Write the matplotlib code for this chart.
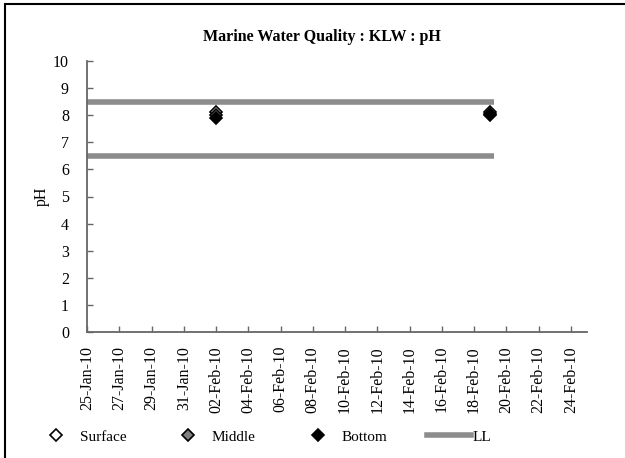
import matplotlib
matplotlib.use("Agg")
import matplotlib.pyplot as plt
import matplotlib.dates as mdates
from matplotlib.lines import Line2D
from matplotlib.patches import Rectangle
import datetime as dt

plt.rcParams['font.family'] = ['Liberation Serif', 'DejaVu Serif']

dates = [dt.datetime(2010, 2, 2), dt.datetime(2010, 2, 19)]
surface = [8.1, 8.1]
middle = [8.0, 8.05]
bottom = [7.9, 8.0]
ll_dates = [dt.datetime(2010, 1, 25), dt.datetime(2010, 2, 19, 6)]
ll_upper = [8.5, 8.5]
ll_lower = [6.5, 6.5]

fig = plt.figure(figsize=(6.25, 4.58), dpi=100)
ax = fig.add_axes([87/625, 1-332/458, (587-87)/625, (332-61)/458])

llc = '#8c8c8c'
ax.plot(ll_dates, ll_upper, color=llc, lw=4, solid_capstyle='butt', zorder=2)
ax.plot(ll_dates, ll_lower, color=llc, lw=4, solid_capstyle='butt', zorder=2)
ax.plot(dates, surface, ls='none', marker='D', ms=6, mfc='white', mec='black', mew=1.2, zorder=3)
ax.plot(dates, middle, ls='none', marker='D', ms=6, mfc='#808080', mec='black', mew=1.2, zorder=3)
ax.plot(dates, bottom, ls='none', marker='D', ms=6, mfc='black', mec='black', mew=1.2, zorder=3)

ax.set_xlim(dt.datetime(2010, 1, 25), dt.datetime(2010, 2, 25))
ax.set_ylim(0, 10)
ax.set_yticks(range(0, 11))
ticks = [dt.datetime(2010, 1, 25) + dt.timedelta(days=2*i) for i in range(16)]
ax.set_xticks(ticks)
ax.xaxis.set_major_formatter(mdates.DateFormatter('%d-%b-%y'))
for lab in ax.get_xticklabels():
    lab.set_rotation(90)
ax.tick_params(direction='in', length=4, width=1, color='#666666', labelsize=11.5)
ax.tick_params(axis='y', pad=13)
ax.tick_params(axis='x', pad=10)
for s in ['top', 'right']:
    ax.spines[s].set_visible(False)
for s in ['left', 'bottom']:
    ax.spines[s].set_color('#666666')
    ax.spines[s].set_linewidth(1.3)
ax.set_ylabel('pH', fontsize=11.5, labelpad=2)

fig.text(322/625, 1-37/458, 'Marine Water Quality : KLW : pH', ha='center', va='center',
         fontsize=11.5, fontweight='bold')

handles = [
    Line2D([], [], ls='none', marker='D', ms=6, mfc='white', mec='black', mew=1.2),
    Line2D([], [], ls='none', marker='D', ms=6, mfc='#808080', mec='black', mew=1.2),
    Line2D([], [], ls='none', marker='D', ms=6, mfc='black', mec='black', mew=1.2),
    Line2D([], [], color=llc, lw=4),
]
fig.legend(handles, ['Surface', 'Middle', 'Bottom', 'LL'], ncol=4, loc='center',
           bbox_to_anchor=(0.42, 1-437/458), frameon=False, fontsize=11,
           handlelength=2.9, handletextpad=0.1, columnspacing=2.6)

fig.add_artist(Rectangle((5/625, -0.1), 1.2, 1.1 - 4/458, transform=fig.transFigure,
                         fill=False, edgecolor='black', lw=1.5))

fig.savefig('out.png', dpi=100)
